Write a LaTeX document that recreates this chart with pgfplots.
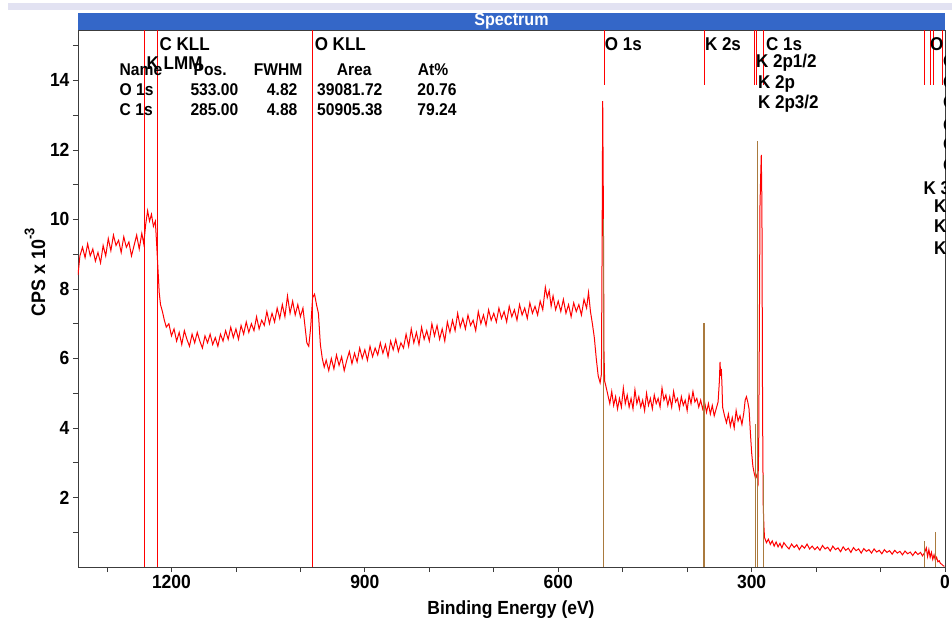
\documentclass[border=0pt]{standalone}
\usepackage{fontspec}
\setmainfont{Liberation Sans}[FakeStretch=0.92]
\usepackage{pgfplots}
\pgfplotsset{compat=1.18}
\definecolor{barblue}{RGB}{52,103,200}
\definecolor{lav}{RGB}{226,226,242}
\definecolor{pkbrown}{RGB}{170,122,62}
\definecolor{axgray}{RGB}{60,60,60}
\newcommand\lbl{\fontsize{17}{19}\selectfont\bfseries}
\newcommand\plbl{\fontsize{18.5}{20}\selectfont\bfseries}
\newcommand\tlbl{\fontsize{19}{21}\selectfont\bfseries}
\begin{document}
\begin{tikzpicture}
\useasboundingbox (-78pt,-63pt) rectangle (874pt,567pt);
\fill[lav] (-70pt,557pt) rectangle (874pt,564pt);
\begin{axis}[
 at={(0pt,0pt)}, anchor=south west,
 scale only axis, width=867pt, height=537pt,
 x dir=reverse, xmin=0, xmax=1345, ymin=0, ymax=15.45,
 xtick={0,300,600,900,1200},
 minor xtick={100,200,400,500,700,800,1000,1100,1300},
 ytick={2,4,6,8,10,12,14},
 minor ytick={1,3,5,7,9,11,13,15},
 tick align=outside, tick pos=left,
 major tick length=5pt, minor tick length=5pt,
 tick style={axgray, line width=0.8pt},
 axis line style={axgray, line width=0.8pt},
 /pgf/number format/assume math mode=true,
 /pgf/number format/1000 sep={},
 ticklabel style={font=\tlbl},
 clip=true,
]
% spectrum
\addplot[red, line width=1pt] coordinates {
(1345,8.40) (1342,8.95) (1338,9.20) (1334,8.90) (1330,9.30) (1326,8.95) (1322,9.15) (1318,8.80)
(1314,9.05) (1310,8.75) (1306,9.25) (1302,8.95) (1298,9.45) (1294,9.10) (1290,9.55) (1286,9.25)
(1282,9.40) (1278,9.05) (1274,9.50) (1270,9.20) (1266,9.35) (1262,8.95) (1258,9.25) (1254,9.55)
(1250,9.15) (1246,9.60) (1243,9.30) (1240,9.85) (1237,10.25) (1234,9.95) (1231,10.15) (1228,9.80)
(1225,9.95) (1223,9.30) (1221,8.60) (1219,7.90) (1217,7.55) (1214,7.35) (1211,7.10) (1208,6.90)
(1204,7.00) (1200,6.65) (1196,6.85) (1192,6.50) (1188,6.75) (1184,6.40) (1180,6.80) (1176,6.55)
(1172,6.35) (1168,6.70) (1164,6.45) (1160,6.75) (1156,6.50) (1152,6.30) (1148,6.65) (1144,6.45)
(1140,6.70) (1136,6.40) (1132,6.60) (1128,6.35) (1124,6.70) (1120,6.50) (1116,6.80) (1112,6.55)
(1108,6.90) (1104,6.60) (1100,6.85) (1096,6.55) (1092,6.95) (1088,6.70) (1084,7.05) (1080,6.75)
(1076,7.00) (1072,6.80) (1068,7.20) (1064,6.85) (1060,7.10) (1056,6.95) (1052,7.35) (1048,7.00)
(1044,7.30) (1040,7.05) (1036,7.45) (1032,7.15) (1028,7.55) (1024,7.20) (1020,7.80) (1016,7.30)
(1012,7.65) (1008,7.25) (1004,7.55) (1000,7.20) (996,7.45) (993,6.95) (990,6.45) (987,6.35)
(984,6.90) (981,7.75) (978,7.85) (975,7.55) (972,7.30) (969,6.40) (966,6.00) (963,5.75)
(960,5.95) (956,5.65) (952,6.00) (948,5.70) (944,6.10) (940,5.80) (936,6.05) (932,5.65)
(928,5.95) (924,6.20) (920,5.85) (916,6.15) (912,5.90) (908,6.30) (904,6.00) (900,6.25)
(896,5.95) (892,6.35) (888,6.05) (884,6.30) (880,6.10) (876,6.45) (872,6.15) (868,6.40)
(864,6.05) (860,6.50) (856,6.25) (852,6.55) (848,6.20) (844,6.45) (840,6.30) (836,6.70)
(832,6.35) (828,6.85) (824,6.45) (820,6.75) (816,6.40) (812,6.90) (808,6.55) (804,6.80)
(800,6.50) (796,7.00) (792,6.65) (788,6.95) (784,6.55) (780,6.85) (776,6.50) (772,7.05)
(768,6.75) (764,7.10) (760,6.80) (756,7.30) (752,6.90) (748,7.15) (744,6.85) (740,7.25)
(736,6.95) (732,7.10) (728,6.80) (724,7.35) (720,7.00) (716,7.25) (712,6.95) (708,7.40)
(704,7.10) (700,7.30) (696,7.05) (692,7.45) (688,7.15) (684,7.35) (680,7.05) (676,7.50)
(672,7.20) (668,7.40) (664,7.10) (660,7.55) (656,7.25) (652,7.45) (648,7.15) (644,7.60)
(640,7.30) (636,7.50) (632,7.25) (628,7.65) (624,7.40) (620,8.05) (617,7.75) (614,7.95)
(611,7.50) (608,7.80) (604,7.40) (600,7.65) (596,7.35) (592,7.70) (588,7.30) (584,7.55)
(580,7.20) (576,7.60) (572,7.35) (568,7.55) (564,7.25) (560,7.70) (556,7.45) (553,7.90)
(550,7.35) (547,7.00) (544,6.60) (541,6.00) (538,5.50) (535,5.30) (533,5.55) (532,9.00)
(531,13.40) (530,10.50) (529,6.20) (528,5.35) (526,5.20) (523,4.95) (520,4.70) (517,5.05)
(514,4.65) (511,4.90) (508,4.55) (505,4.85) (502,4.60) (499,5.15) (496,4.70) (493,4.95)
(490,4.60) (487,4.85) (484,4.55) (481,5.10) (478,4.70) (475,4.90) (472,4.60) (469,4.80)
(466,4.50) (463,5.00) (460,4.65) (457,4.85) (454,4.55) (451,4.95) (448,4.70) (445,4.85)
(442,4.60) (439,5.15) (436,4.80) (433,4.95) (430,4.65) (427,4.90) (424,4.60) (421,5.05)
(418,4.75) (415,4.85) (412,4.55) (409,4.90) (406,4.65) (403,4.80) (400,4.50) (397,4.95)
(394,4.70) (391,5.05) (388,4.75) (385,4.85) (382,4.60) (379,4.80) (376,4.55) (373,4.75)
(370,4.45) (367,4.70) (364,4.40) (361,4.65) (358,4.35) (355,4.55) (352,4.75) (350,5.35)
(349,5.90) (348,5.50) (347,5.70) (346,5.25) (345,4.60) (342,4.35) (339,4.15) (336,4.40)
(333,4.05) (330,4.30) (327,4.00) (324,4.50) (321,4.20) (318,4.35) (315,4.10) (312,4.45)
(310,4.80) (308,4.90) (306,4.75) (304,4.55) (302,3.90) (300,3.30) (298,2.90) (296,2.70)
(294,2.55) (292,2.65) (290,2.45) (289,3.50) (288,6.70) (287,10.40) (286,11.20) (285,11.86)
(284,10.40) (283,4.50) (282,1.80) (281,1.20) (280,0.85) (277,0.70) (274,0.80) (271,0.65)
(268,0.75) (265,0.60) (262,0.72) (259,0.58) (256,0.68) (253,0.55) (250,0.70) (246,0.60)
(242,0.52) (238,0.66) (234,0.56) (230,0.64) (226,0.50) (222,0.62) (218,0.54) (214,0.66)
(210,0.52) (206,0.60) (202,0.50) (198,0.58) (194,0.48) (190,0.62) (186,0.52) (182,0.57)
(178,0.46) (174,0.60) (170,0.50) (166,0.55) (162,0.44) (158,0.58) (154,0.48) (150,0.54)
(146,0.42) (142,0.56) (138,0.47) (134,0.52) (130,0.40) (126,0.53) (122,0.45) (118,0.50)
(114,0.40) (110,0.52) (106,0.43) (102,0.48) (98,0.38) (94,0.50) (90,0.42) (86,0.47)
(82,0.37) (78,0.48) (74,0.40) (70,0.45) (66,0.35) (62,0.46) (58,0.38) (54,0.43)
(50,0.33) (46,0.44) (42,0.36) (38,0.42) (35,0.32) (32,0.40) (29,0.55) (27,0.30)
(25,0.50) (23,0.28) (21,0.42) (19,0.22) (17,0.35) (15,0.20) (13,0.28) (11,0.15)
(9,0.18) (7,0.10) (5,0.08) (3,0.04) (1,0.02)
};
% full height marker lines
\addplot[red, line width=0.8pt] coordinates {(1242,0) (1242,15.45)};
\addplot[red, line width=0.8pt] coordinates {(1222,0) (1222,15.45)};
\addplot[red, line width=0.8pt] coordinates {(981,0) (981,15.45)};
% short top marker lines
\addplot[red, line width=0.8pt] coordinates {(529,13.87) (529,15.45)};
\addplot[red, line width=0.8pt] coordinates {(374,13.87) (374,15.45)};
\addplot[red, line width=0.8pt] coordinates {(295,13.87) (295,15.45)};
\addplot[red, line width=0.8pt] coordinates {(292,13.87) (292,15.45)};
\addplot[red, line width=0.8pt] coordinates {(281,13.87) (281,15.45)};
\addplot[red, line width=0.8pt] coordinates {(32.6,13.87) (32.6,15.45)};
\addplot[red, line width=0.8pt] coordinates {(23.3,13.87) (23.3,15.45)};
\addplot[red, line width=0.8pt] coordinates {(18.6,13.87) (18.6,15.45)};
\addplot[red, line width=0.8pt] coordinates {(4.7,13.87) (4.7,15.45)};
% brown peak lines
\addplot[pkbrown, line width=1.2pt] coordinates {(530,0) (530,10.0)};
\addplot[pkbrown, line width=1.2pt] coordinates {(374,0) (374,7.02)};
\addplot[pkbrown, line width=1.2pt] coordinates {(294,0) (294,4.1)};
\addplot[pkbrown, line width=1.2pt] coordinates {(291,0) (291,12.27)};
\addplot[pkbrown, line width=1.2pt] coordinates {(281.5,0) (281.5,2.65)};
\addplot[pkbrown, line width=1.2pt] coordinates {(31.8,0) (31.8,0.75)};
\addplot[pkbrown, line width=1.2pt] coordinates {(14.3,0) (14.3,1.0)};
% peak labels
\begin{scope}[every node/.style={font=\plbl, inner sep=0pt, anchor=west}]
\node at (axis cs:1218.6,15.05) {C KLL};
\node at (axis cs:1238.7,14.50) {K LMM};
\node at (axis cs:978,15.05) {O KLL};
\node at (axis cs:527.8,15.05) {O 1s};
\node at (axis cs:372.6,15.05) {K 2s};
\node at (axis cs:277.9,15.05) {C 1s};
\node at (axis cs:293.4,14.50) {K 2p1/2};
\node at (axis cs:290.3,13.90) {K 2p};
\node at (axis cs:290.3,13.32) {K 2p3/2};
\node at (axis cs:23.3,15.05) {O 2s};
\node at (axis cs:3.1,14.50) {O 2p1/2};
\node at (axis cs:3.1,13.90) {O 2p};
\node at (axis cs:3.1,13.32) {O 2p3/2};
\node at (axis cs:3.1,12.72) {O 2s};
\node at (axis cs:3.1,12.11) {O 2p1/2};
\node at (axis cs:3.1,11.51) {O 2p3/2};
\node at (axis cs:33.5,10.91) {K 3s};
\node at (axis cs:17.1,10.33) {K 3p1/2};
\node at (axis cs:17.1,9.75) {K 3p};
\node at (axis cs:17.1,9.12) {K 3p3/2};
\end{scope}
% table
\begin{scope}[every node/.style={font=\lbl, inner sep=0pt, anchor=west}]
\node at (axis cs:1280.6,14.30) {Name};
\node at (axis cs:1165.8,14.30) {Pos.};
\node at (axis cs:1072.6,14.30) {FWHM};
\node at (axis cs:943.8,14.30) {Area};
\node at (axis cs:818.1,14.30) {At\%};
\node at (axis cs:1280.6,13.72) {O 1s};
\node at (axis cs:1280.6,13.15) {C 1s};
\node[anchor=east] at (axis cs:1095.9,13.72) {533.00};
\node[anchor=east] at (axis cs:1004.3,13.72) {4.82};
\node[anchor=east] at (axis cs:872.4,13.72) {39081.72};
\node[anchor=east] at (axis cs:757.5,13.72) {20.76};
\node[anchor=east] at (axis cs:1095.9,13.15) {285.00};
\node[anchor=east] at (axis cs:1004.3,13.15) {4.88};
\node[anchor=east] at (axis cs:872.4,13.15) {50905.38};
\node[anchor=east] at (axis cs:757.5,13.15) {79.24};
\end{scope}
\end{axis}
\fill[barblue] (0pt,537pt) rectangle (867pt,554pt);
\node[font=\fontsize{17.5}{17.5}\selectfont\bfseries, text=white, inner sep=0pt] at (433.5pt,545.5pt) {Spectrum};
\node[font=\fontsize{19.5}{21}\selectfont\bfseries, rotate=90, inner sep=0pt] at (-43pt,295pt) {CPS x 10\raisebox{0.55em}{\fontsize{14}{14}\selectfont -3}};
\node[font=\tlbl, inner sep=0pt] at (433pt,-43pt) {Binding Energy (eV)};
\end{tikzpicture}
\end{document}
